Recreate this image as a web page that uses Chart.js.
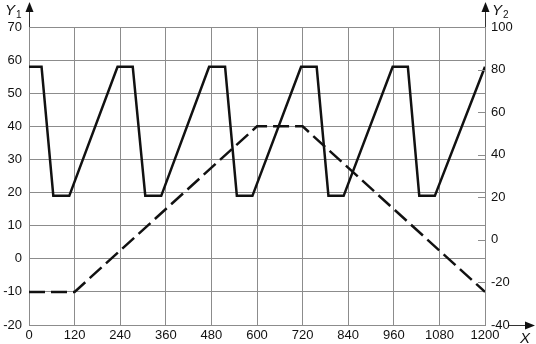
<!DOCTYPE html>
<html>
<head>
<meta charset="utf-8">
<script src="https://cdn.jsdelivr.net/npm/chart.js@4.4.0/dist/chart.umd.min.js"></script>
<style>
  body { margin: 0; background: #fff; }
  canvas { display: block; }
</style>
</head>
<body>
<canvas id="myChart" width="536" height="344"></canvas>
<script>
// solid curve (left axis Y1)
var xSolid = [0, 33, 64, 106, 233, 273, 306, 348, 474, 516, 547, 588, 716, 757, 788, 828, 957, 997, 1027, 1068, 1200];
var ySolid = [58, 58, 19, 19, 58, 58, 19, 19, 58, 58, 19, 19, 58, 58, 19, 19, 58, 58, 19, 19, 58];

// dashed curve (left axis Y1)
var xDashed = [0, 120, 600, 720, 1200];
var yDashed = [-10, -10, 40, 40, -10];

// axes
var xTicks = [0, 120, 240, 360, 480, 600, 720, 840, 960, 1080, 1200];
var y1Ticks = [-20, -10, 0, 10, 20, 30, 40, 50, 60, 70];
var y2Ticks = [-40, -20, 0, 20, 40, 60, 80, 100];

var FONT = '"Liberation Sans", Arial, sans-serif';
var GRID = '#8c8c8c';

function pts(xs, ys) {
    var out = [];
    for (let i = 0; i < xs.length; i++) {
        out.push({ x: xs[i], y: ys[i] });
    }
    return out;
}

function plain(v) { return String(v); }

function arrowHead(ctx, x, y, dir) {
    ctx.beginPath();
    if (dir === 'up') {
        ctx.moveTo(x, y);
        ctx.lineTo(x - 4, y + 10);
        ctx.lineTo(x + 4, y + 10);
    } else {
        ctx.moveTo(x, y);
        ctx.lineTo(x - 10, y - 4);
        ctx.lineTo(x - 10, y + 4);
    }
    ctx.closePath();
    ctx.fill();
}

function axisName(ctx, x, y, main, sub) {
    ctx.font = 'italic 15px ' + FONT;
    ctx.textBaseline = 'alphabetic';
    ctx.textAlign = 'left';
    ctx.fillText(main, x, y);
    if (sub) {
        var w = ctx.measureText(main).width;
        ctx.font = '10px ' + FONT;
        ctx.fillText(sub, x + w + 1, y + 3);
    }
}

var decor = {
    id: 'decor',
    afterDraw: function (chart) {
        var ctx = chart.ctx;
        var a = chart.chartArea;
        var y2 = chart.scales.y2;
        ctx.save();

        // inward ticks on the right axis
        ctx.strokeStyle = GRID;
        ctx.lineWidth = 1;
        y2Ticks.forEach(function (v) {
            var py = Math.round(y2.getPixelForValue(v)) + 0.5;
            ctx.beginPath();
            ctx.moveTo(a.right - 7, py);
            ctx.lineTo(a.right, py);
            ctx.stroke();
        });

        // axis extensions and arrows
        ctx.strokeStyle = '#333';
        ctx.fillStyle = '#111';
        ctx.beginPath();
        ctx.moveTo(a.left + 0.5, a.top);
        ctx.lineTo(a.left + 0.5, 8);
        ctx.moveTo(a.right + 0.5, a.top);
        ctx.lineTo(a.right + 0.5, 8);
        ctx.moveTo(509, a.bottom + 0.5);
        ctx.lineTo(526, a.bottom + 0.5);
        ctx.stroke();
        arrowHead(ctx, a.left + 0.5, 2, 'up');
        arrowHead(ctx, a.right + 0.5, 2, 'up');
        arrowHead(ctx, 535, a.bottom + 0.5, 'right');

        axisName(ctx, 5, 15, 'Y', '1');
        axisName(ctx, 492, 15, 'Y', '2');
        axisName(ctx, 520, 343, 'X');
        ctx.restore();
    }
};

var ctx = document.getElementById('myChart').getContext('2d');

var myChart = new Chart(ctx, {
    type: 'line',
    data: {
        datasets: [{
            data: pts(xSolid, ySolid),
            borderColor: '#111',
            borderWidth: 2.5,
            pointRadius: 0,
            tension: 0,
            yAxisID: 'y'
        }, {
            data: pts(xDashed, yDashed),
            borderColor: '#111',
            borderWidth: 2.5,
            borderDash: [16, 6],
            pointRadius: 0,
            tension: 0,
            yAxisID: 'y'
        }]
    },
    options: {
        responsive: false,
        animation: false,
        layout: { padding: { top: 27, left: 0, right: 0, bottom: 0 } },
        plugins: {
            legend: { display: false },
            tooltip: { enabled: false }
        },
        scales: {
            x: {
                type: 'linear',
                min: 0,
                max: 1200,
                afterBuildTicks: function (s) { s.ticks = xTicks.map(function (v) { return { value: v }; }); },
                afterFit: function (s) { s.height = 19; },
                ticks: {
                    autoSkip: false,
                    maxRotation: 0,
                    padding: 3,
                    color: '#111',
                    callback: plain,
                    font: { family: FONT, size: 13 }
                },
                grid: { color: GRID, lineWidth: 1, drawTicks: false },
                border: { color: GRID }
            },
            y: {
                position: 'left',
                min: -20,
                max: 70,
                afterBuildTicks: function (s) { s.ticks = y1Ticks.map(function (v) { return { value: v }; }); },
                afterFit: function (s) { s.width = 29; },
                ticks: {
                    padding: 7,
                    color: '#111',
                    callback: plain,
                    font: { family: FONT, size: 13 }
                },
                grid: { color: GRID, lineWidth: 1, drawTicks: false },
                border: { color: GRID }
            },
            y2: {
                position: 'right',
                min: -40,
                max: 100,
                afterBuildTicks: function (s) { s.ticks = y2Ticks.map(function (v) { return { value: v }; }); },
                afterFit: function (s) { s.width = 51; },
                ticks: {
                    padding: 6,
                    color: '#111',
                    callback: plain,
                    font: { family: FONT, size: 13 }
                },
                grid: { drawOnChartArea: false, drawTicks: false },
                border: { color: GRID }
            }
        }
    },
    plugins: [decor]
});
</script>
</body>
</html>
